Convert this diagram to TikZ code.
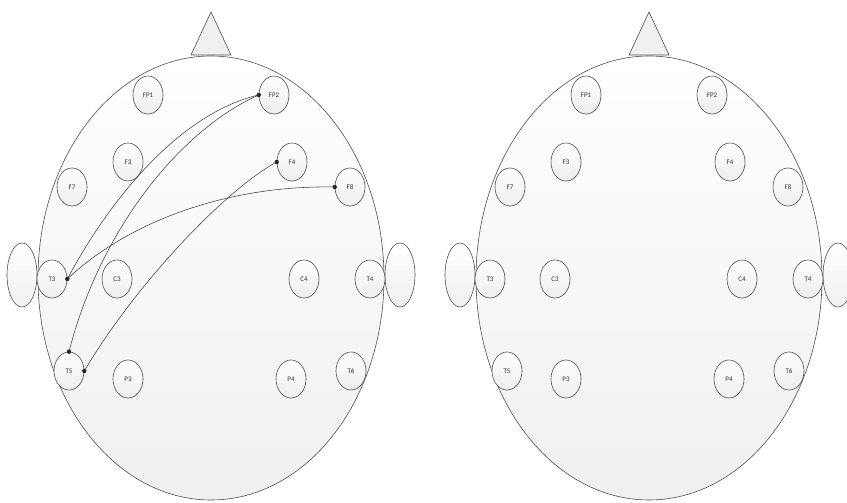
\documentclass[tikz,border=0pt]{standalone}
\usepackage{fontspec}
\setmainfont{Carlito}
\usetikzlibrary{shapes.geometric,shadows}
\definecolor{lineg}{HTML}{505050}
\definecolor{txtg}{HTML}{303030}
\tikzset{
  headshape/.style={draw=lineg, line width=0.6pt, top color=white, bottom color=black!6},
  earshape/.style={draw=lineg, line width=0.6pt, top color=white, bottom color=black!6},
  noseshape/.style={draw=lineg, line width=0.6pt, fill=black!6},
  electrode/.style={ellipse, draw=lineg, line width=0.6pt, minimum width=30pt, minimum height=38pt,
    inner sep=0pt, top color=white, bottom color=black!7, text=txtg,
    font=\fontsize{7}{8}\selectfont,
    drop shadow={opacity=0.12, shadow xshift=0.8pt, shadow yshift=-0.8pt}},
  wire/.style={draw=black!75, line width=0.55pt},
  dot/.style={fill=black!85}
}
\begin{document}
\begin{tikzpicture}[x=1pt,y=1pt]
\useasboundingbox (0,0) rectangle (847,503);
\fill[white] (0,0) rectangle (847,503);
\foreach \p/\dx in {L/0, R/438}{
  \begin{scope}[xshift=\dx pt]
    \draw[earshape] (22,228) ellipse [x radius=15pt, y radius=32pt];
    \draw[earshape] (400,228) ellipse [x radius=15pt, y radius=32pt];
    \draw[noseshape] (191,448) -- (211,491) -- (231,448) -- cycle;
    \draw[headshape] (211,225) ellipse [x radius=173pt, y radius=222pt];
    \foreach \n/\x/\y in {FP1/148/408, FP2/274/408, F3/128/341, F4/292/341,
      F7/72/316, F8/350/316, T3/52/224, C3/117/224, C4/304/224, T4/370/224,
      T5/69/132, P3/128/124, P4/291/124, T6/351/132}{
      \node[electrode] (\p\n) at (\x,\y) {\n};
    }
  \end{scope}
}
% connections on the left head
\draw[wire] (LFP2.west) .. controls (185,391) and (115,313) .. (LT3.east);
\draw[wire] (LFP2.west) .. controls (180,373) and (100,273) .. (LT5.north);
\draw[wire] (LF8.west) .. controls (230,318) and (130,283) .. (LT3.east);
\draw[wire] (LF4.west) .. controls (225,313) and (135,218) .. (LT5.east);
\foreach \a in {LFP2.west, LF4.west, LF8.west, LT3.east, LT5.north, LT5.east}{
  \fill[dot] (\a) circle (2.2pt);
}
\end{tikzpicture}
\end{document}
